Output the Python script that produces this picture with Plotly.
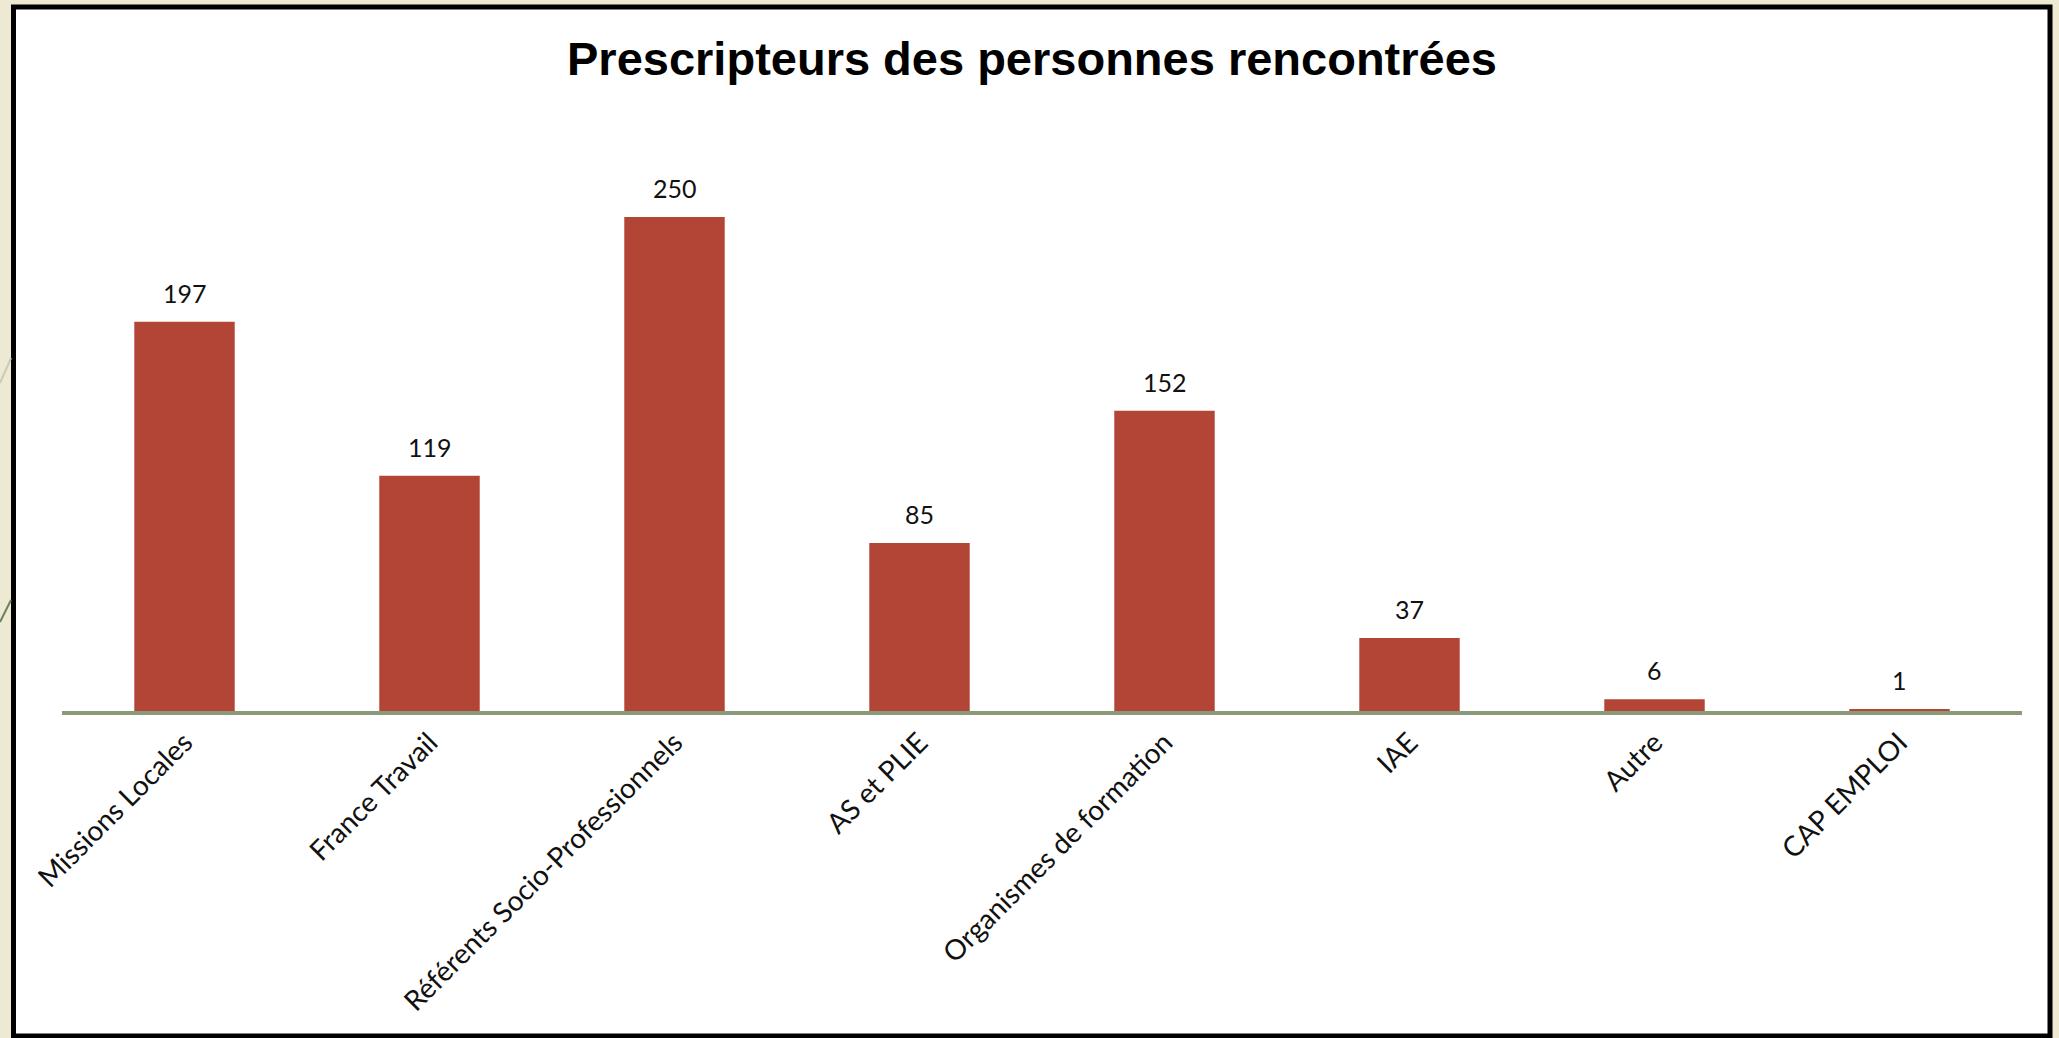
import plotly.graph_objects as go

categories = ["Missions Locales", "France Travail", "Référents Socio-Professionnels",
              "AS et PLIE", "Organismes de formation", "IAE", "Autre", "CAP EMPLOI"]
values = [197, 119, 250, 85, 152, 37, 6, 1]
title_text = "Prescripteurs des personnes rencontrées"

W, H = 2059, 1038
L, R, T, B = 62, 37, 138, 327
ymax = 290
pw = W - L - R
ph = H - T - B

def px_x(x):
    return (x - L) / pw

def px_y(y):
    return (H - B - y) / ph

fig = go.Figure()
fig.add_trace(go.Bar(
    x=categories, y=values,
    marker=dict(color="#B34536", line=dict(width=0)),
    width=0.41,
    cliponaxis=False,
))

annotations = [
    dict(x=c, y=v, xref="x", yref="y", text=str(v), showarrow=False,
         yanchor="bottom", yshift=12,
         font=dict(family="Lato, sans-serif", size=25, color="#111111"))
    for c, v in zip(categories, values)
]

shapes = [
    dict(type="rect", xref="paper", yref="paper",
         x0=px_x(13.5), x1=px_x(2050), y0=px_y(1036), y1=px_y(7),
         line=dict(color="#000000", width=5), fillcolor="#FFFFFF", layer="below"),
    dict(type="line", xref="paper", yref="paper",
         x0=px_x(0), y0=px_y(622), x1=px_x(11), y1=px_y(600),
         line=dict(color="#6E7F5E", width=2)),
    dict(type="line", xref="paper", yref="paper",
         x0=px_x(0), y0=px_y(383), x1=px_x(11), y1=px_y(358),
         line=dict(color="#C9CDB8", width=2)),
]

fig.update_layout(
    width=W, height=H, autosize=False,
    margin=dict(l=L, r=R, t=T, b=B),
    paper_bgcolor="#EDE9D2",
    plot_bgcolor="rgba(0,0,0,0)",
    showlegend=False,
    bargap=0.59,
    title=dict(text="<b>" + title_text + "</b>", x=px_x(1032), xref="paper", xanchor="center",
               y=1 - 59 / H, yref="container", yanchor="middle",
               font=dict(family="Liberation Sans, Arial, sans-serif", size=47, color="#000000")),
    xaxis=dict(
        showgrid=False, showline=True, linecolor="#8A9978", linewidth=4,
        ticks="", tickangle=-45,
        tickfont=dict(family="Lato, sans-serif", size=28, color="#111111"),
        zeroline=False,
    ),
    yaxis=dict(range=[0, ymax], visible=False, showgrid=False, zeroline=False),
    shapes=shapes,
    annotations=annotations,
)

fig.write_html("out.html", config={"displayModeBar": False},
               post_script="document.body.style.margin='0';document.body.style.overflow='hidden';")
